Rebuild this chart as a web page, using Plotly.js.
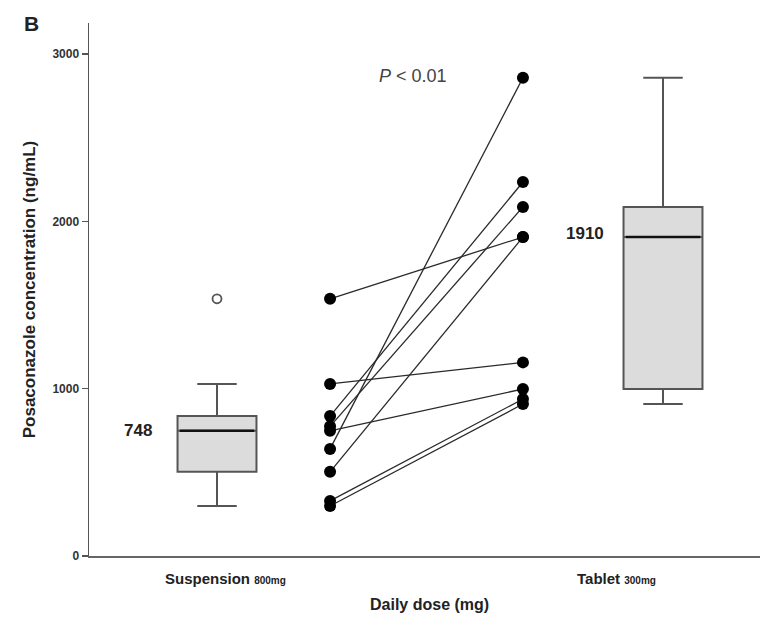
<!DOCTYPE html>
<html>
<head>
<meta charset="utf-8">
<script src="https://cdn.plot.ly/plotly-3.0.1.min.js"></script>
<style>html,body{margin:0;padding:0;background:#fff;}#chart{width:764px;height:617px;}</style>
</head>
<body>
<div id="chart"></div>
<script>
// Paired patient values (ng/mL), same order in both arrays
const suspension = [1537, 1028, 836, 775, 748, 640, 503, 329, 299];
const tablet     = [1906, 1157, 2235, 2086, 998, 2858, 1906, 938, 908];
const groupLabels = ["Suspension", "Tablet"];
const doseLabels = ["800mg", "300mg"];
const medianLabels = ["748", "1910"];
const yTicks = [0, 1000, 2000, 3000];

// layout positions (x in axis units)
const xBox = [1, 3];
const xPair = [1.507, 2.372];
const boxW = 0.354;

function median(a){const s=[...a].sort((p,q)=>p-q);const n=s.length;return n%2?s[(n-1)/2]:(s[n/2-1]+s[n/2])/2;}

const traces = [];
// paired lines
for (let i = 0; i < suspension.length; i++) {
  traces.push({
    type: 'scatter', mode: 'lines+markers',
    x: [xPair[0], xPair[1]], y: [suspension[i], tablet[i]],
    line: {color: '#2a2a2a', width: 1.3},
    marker: {color: '#000', size: 12},
    showlegend: false, hoverinfo: 'skip'
  });
}
// boxes
[suspension, tablet].forEach((d, k) => {
  traces.push({
    type: 'box', y: d, x: d.map(() => xBox[k]),
    width: boxW, whiskerwidth: 0.5,
    quartilemethod: 'inclusive',
    boxpoints: 'outliers',
    fillcolor: '#dcdcdc',
    line: {color: '#555', width: 2},
    marker: {symbol: 'circle-open', size: 9, color: '#555', line: {width: 1.8}},
    showlegend: false
  });
  // darker median line
  const m = median(d);
  traces.push({
    type: 'scatter', mode: 'lines',
    x: [xBox[k] - boxW/2 + 0.01, xBox[k] + boxW/2 - 0.01], y: [m, m],
    line: {color: '#111', width: 2.6}, showlegend: false, hoverinfo: 'skip'
  });
});

const font = 'Liberation Sans, Arial, sans-serif';
const bold = {family: font, color: '#222'};
const annotations = [
  {text: '<b>B</b>', xref: 'paper', yref: 'paper', x: -0.1, y: 1.025, xanchor: 'left', yanchor: 'top',
   showarrow: false, font: {...bold, size: 21}},
  {text: '<i>P</i> < 0.01', xref: 'x', yref: 'y', x: 1.88, y: 2871, showarrow: false,
   font: {family: font, size: 18, color: '#444'}},
  {text: '<b>' + medianLabels[0] + '</b>', xref: 'x', yref: 'y', x: 0.646, y: median(suspension),
   showarrow: false, font: {...bold, size: 17}},
  {text: '<b>' + medianLabels[1] + '</b>', xref: 'x', yref: 'y', x: 2.65, y: 1928,
   showarrow: false, font: {...bold, size: 17}},
  {text: '<b>' + groupLabels[0] + ' <span style="font-size:10px">' + doseLabels[0] + '</span></b>',
   xref: 'x', yref: 'paper', x: 1.036, y: -0.022, yanchor: 'top', showarrow: false, font: {...bold, size: 15}},
  {text: '<b>' + groupLabels[1] + ' <span style="font-size:10px">' + doseLabels[1] + '</span></b>',
   xref: 'x', yref: 'paper', x: 2.79, y: -0.022, yanchor: 'top', showarrow: false, font: {...bold, size: 15}},
  {text: '<b>Daily dose (mg)</b>', xref: 'paper', yref: 'paper', x: 0.508, y: -0.072, yanchor: 'top',
   showarrow: false, font: {...bold, size: 16}}
];

const layout = {
  width: 764, height: 617,
  margin: {l: 89, r: 4, t: 23, b: 61},
  paper_bgcolor: '#fff', plot_bgcolor: '#fff',
  showlegend: false,
  xaxis: {
    range: [0.426, 3.435], showgrid: false, zeroline: false,
    showline: true, linecolor: '#666', linewidth: 2,
    showticklabels: false, ticks: ''
  },
  yaxis: {
    range: [0, 3185], showgrid: false, zeroline: false,
    showline: true, linecolor: '#555', linewidth: 1.5,
    ticks: 'outside', ticklen: 6, tickcolor: '#555', tickwidth: 1.2,
    tickvals: yTicks, ticktext: yTicks.map(v => '<b>' + v + '</b>'),
    tickfont: {family: font, size: 12, color: '#333'},
    title: {text: '<b>Posaconazole concentration (ng/mL)</b>', font: {...bold, size: 17}, standoff: 12}
  },
  annotations: annotations
};

Plotly.newPlot('chart', traces, layout, {staticPlot: true});
</script>
</body>
</html>
